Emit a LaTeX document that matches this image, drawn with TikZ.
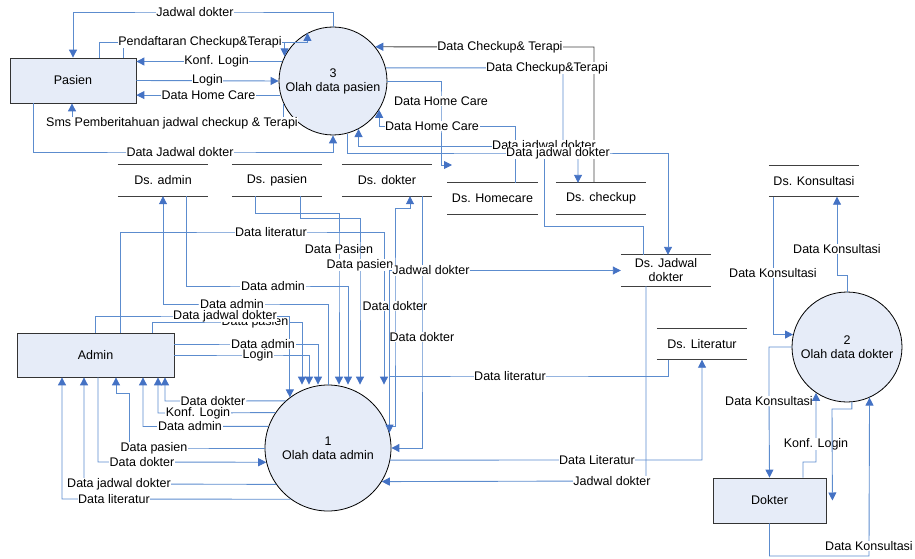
\documentclass[tikz,border=0pt]{standalone}
\usepackage{fontspec}
\setmainfont{Liberation Sans}
\usetikzlibrary{arrows.meta}
\definecolor{isi}{RGB}{230,236,248}
\definecolor{garisbiru}{RGB}{92,140,206}
\definecolor{panah}{RGB}{68,114,196}

\begin{document}
\begin{tikzpicture}[x=1pt,y=-1pt,font=\fontsize{12.5}{14}\selectfont]
  \tikzstyle{entitas}=[rectangle,draw=black!80,fill=isi,line width=0.8pt]
  \tikzstyle{proses}=[circle,draw=black,fill=isi,line width=0.8pt,align=center,inner sep=0pt]
  \tikzstyle{simpan}=[rectangle,minimum width=90pt,minimum height=31pt,align=center,inner sep=1pt]
  \tikzstyle{garis}=[draw=black!75,line width=1pt]
  \tikzstyle{alur}=[draw=garisbiru,line width=0.9pt,-{Triangle[length=8pt,width=8pt,color=panah]}]
  \tikzstyle{ket}=[fill=white,inner sep=0.6pt]
  \useasboundingbox (0,0) rectangle (915,559);

  % entitas luar
  \node[entitas,minimum width=126pt,minimum height=45pt] (pasien) at (73,80.5) {Pasien};
  \node[entitas,minimum width=157pt,minimum height=44pt] (admin) at (95.5,355) {Admin};
  \node[entitas,minimum width=113pt,minimum height=45pt] (dokter) at (769.5,500.5) {Dokter};

  % proses
  \node[proses,minimum size=108pt] (c3) at (333,81) {3\\Olah data pasien};
  \node[proses,minimum size=126pt] (c1) at (328,448) {1\\Olah data admin};
  \node[proses,minimum size=110pt] (c2) at (847,347) {2\\Olah data dokter};

  % data store
  \node[simpan] (dsadmin) at (163,180.5) {Ds. admin};
  \node[simpan] (dspasien) at (277,180.5) {Ds. pasien};
  \node[simpan] (dsdokter) at (387,180.5) {Ds. dokter};
  \node[simpan] (dshome) at (492.5,198.5) {Ds. Homecare};
  \node[simpan] (dscheck) at (601,198.5) {Ds. checkup};
  \node[simpan] (dsjadwal) at (666,270.5) {Ds. Jadwal\\dokter};
  \node[simpan] (dslit) at (702,344) {Ds. Literatur};
  \node[simpan] (dskons) at (814,181) {Ds. Konsultasi};
  \foreach \s in {dsadmin,dspasien,dsdokter,dshome,dscheck,dsjadwal,dslit,dskons}
    \draw[garis] (\s.north west) -- (\s.north east) (\s.south west) -- (\s.south east);

  \coordinate (hcin) at (452,165);

  % alur proses 3
  \draw[alur] (c3.north) |- (195,12) node[ket]{Jadwal dokter} -| (pasien.north);
  \draw[alur] ([xshift=50pt]pasien.north) |- (250,42) -| (c3.118);
  \draw[alur] ([xshift=26pt]pasien.north) |- (200,42) node[ket]{Pendaftaran Checkup\&Terapi} -| (c3.153);
  \draw[alur] (c3.159) -- node[ket,pos=0.45]{Konf. Login} (c3.159 -| pasien.east);
  \draw[alur] (pasien.east) -- node[ket]{Login} (c3.west);
  \draw[alur] (c3.195) -- node[ket]{Data Home Care} (c3.195 -| pasien.east);
  \draw[alur] (c3.205) |- (172,123) node[ket]{Sms Pemberitahuan jadwal checkup \& Terapi} -| ([xshift=-1pt]pasien.south);
  \draw[alur] ([xshift=-40pt]pasien.south) |- (180,152) node[ket]{Data Jadwal dokter} -| (c3.south);
  \draw[alur,draw=black!75] ([xshift=-7pt]dscheck.north) |- (500,47) node[ket]{Data Checkup\& Terapi} -- (c3.39);
  \draw[alur] (c3.14) -- (547,68) node[ket]{Data Checkup\&Terapi} -| (563,150) -| ([xshift=-23pt]dscheck.north);
  \draw[alur] (c3.east) -| (441,101) node[ket]{Data Home Care} |- (hcin);
  \draw[alur] ([xshift=22.5pt]dshome.north) |- (432,126) node[ket]{Data Home Care} -| (c3.-32);
  \draw[alur] ([xshift=-23pt]dsjadwal.north) |- (544,226) -- (544,146) node[ket]{Data jadwal dokter} -| (c3.-62);
  \draw[alur] (c3.-75) |- (558,153) node[ket]{Data jadwal dokter} -| ([xshift=2pt]dsjadwal.north);

  % alur proses 1
  \draw[alur] ([xshift=24.5pt]admin.north) |- (271,232) node[ket]{Data literatur} -| ([xshift=56pt]c1.north);
  \draw[alur] (c1.north) |- (232,304) node[ket]{Data admin} -| (dsadmin.south);
  \draw[alur] ([xshift=23pt]dsadmin.south) |- (273,286) node[ket]{Data admin} -| ([xshift=20pt]c1.north);
  \draw[alur] ([xshift=-22pt]dspasien.south) |- (339,213) -- (339,249) node[ket]{Data Pasien} -- ([xshift=11pt]c1.north);
  \draw[alur] ([xshift=23pt]dspasien.south) |- (360,218) -- (360,265) node[ket]{Data pasien} -- ([xshift=32pt]c1.north);
  \draw[alur] (c1.20) -| (395,306) node[ket]{Data dokter} |- (410,208) -- ([xshift=23pt]dsdokter.south);
  \draw[alur] ([xshift=35pt]dsdokter.south) -- (422,337) node[ket]{Data dokter} |- (c1.0);
  \draw[alur] (c1.14) |- (431,270.5) node[ket]{Jadwal dokter} -- (dsjadwal.west);
  \draw[alur] ([xshift=-34pt]dslit.south) |- (510,376) node[ket]{Data literatur} -| (c1.14);
  \draw[alur] (c1.-11) -- (597,460) node[ket]{Data Literatur} -| (dslit.south);
  \draw[alur] ([xshift=-20pt]dsjadwal.south) |- (612,481) node[ket]{Jadwal dokter} -- (c1.-32);
  \draw[alur] ([xshift=56.5pt]admin.north) |- (255,322) node[ket]{Data pasien} -| ([xshift=-26pt]c1.north);
  \draw[alur] (admin.north) |- (225,316) node[ket]{Data jadwal dokter} -| (c1.127);
  \draw[alur] ([yshift=11pt]admin.east) -- (263,344) node[ket]{Data admin} -| ([xshift=-10pt]c1.north);
  \draw[alur] (admin.east) -- (258,355) node[ket]{Login} -| ([xshift=-19pt]c1.north);
  \draw[alur] (c1.132) -- (213,401) node[ket]{Data dokter} -| ([xshift=69.5pt]admin.south);
  \draw[alur] (c1.146) -- (198,413) node[ket]{Konf. Login} -| ([xshift=62.5pt]admin.south);
  \draw[alur] (c1.160) -- (190,426.5) node[ket]{Data admin} -| ([xshift=47.5pt]admin.south);
  \draw[alur] (c1.west) -- (154,448) node[ket]{Data pasien} -| (129,393) -| ([xshift=20.5pt]admin.south);
  \draw[alur] ([xshift=2.5pt]admin.south) |- (142,462) node[ket]{Data dokter} -- (c1.193);
  \draw[alur] (c1.215) -- (119,484) node[ket]{Data jadwal dokter} -| ([xshift=-11.5pt]admin.south);
  \draw[alur] (c1.234) -- (114,499) node[ket]{Data literatur} -| ([xshift=-33.5pt]admin.south);

  % alur proses 2
  \draw[alur] ([xshift=-41pt]dskons.south) -- (773,273) node[ket]{Data Konsultasi} |- (c2.167);
  \draw[alur] (c2.north) |- (837,275) -- (837,249) node[ket]{Data Konsultasi} -- ([xshift=23pt]dskons.south);
  \draw[alur] (c2.west) -| (769,401) node[ket]{Data Konsultasi} -- (dokter.north);
  \draw[alur] ([xshift=33.5pt]dokter.north) |- (816,462) -- (816,444) node[ket]{Konf. Login} -- (c2.-124);
  \draw[alur] (c2.-85) |- (832,409) -- ([xshift=6pt]dokter.east);
  \draw[alur] (dokter.south) |- (869,556) -- (869,546) node[ket]{Data Konsultasi} -- (c2.-66);
\end{tikzpicture}
\end{document}
